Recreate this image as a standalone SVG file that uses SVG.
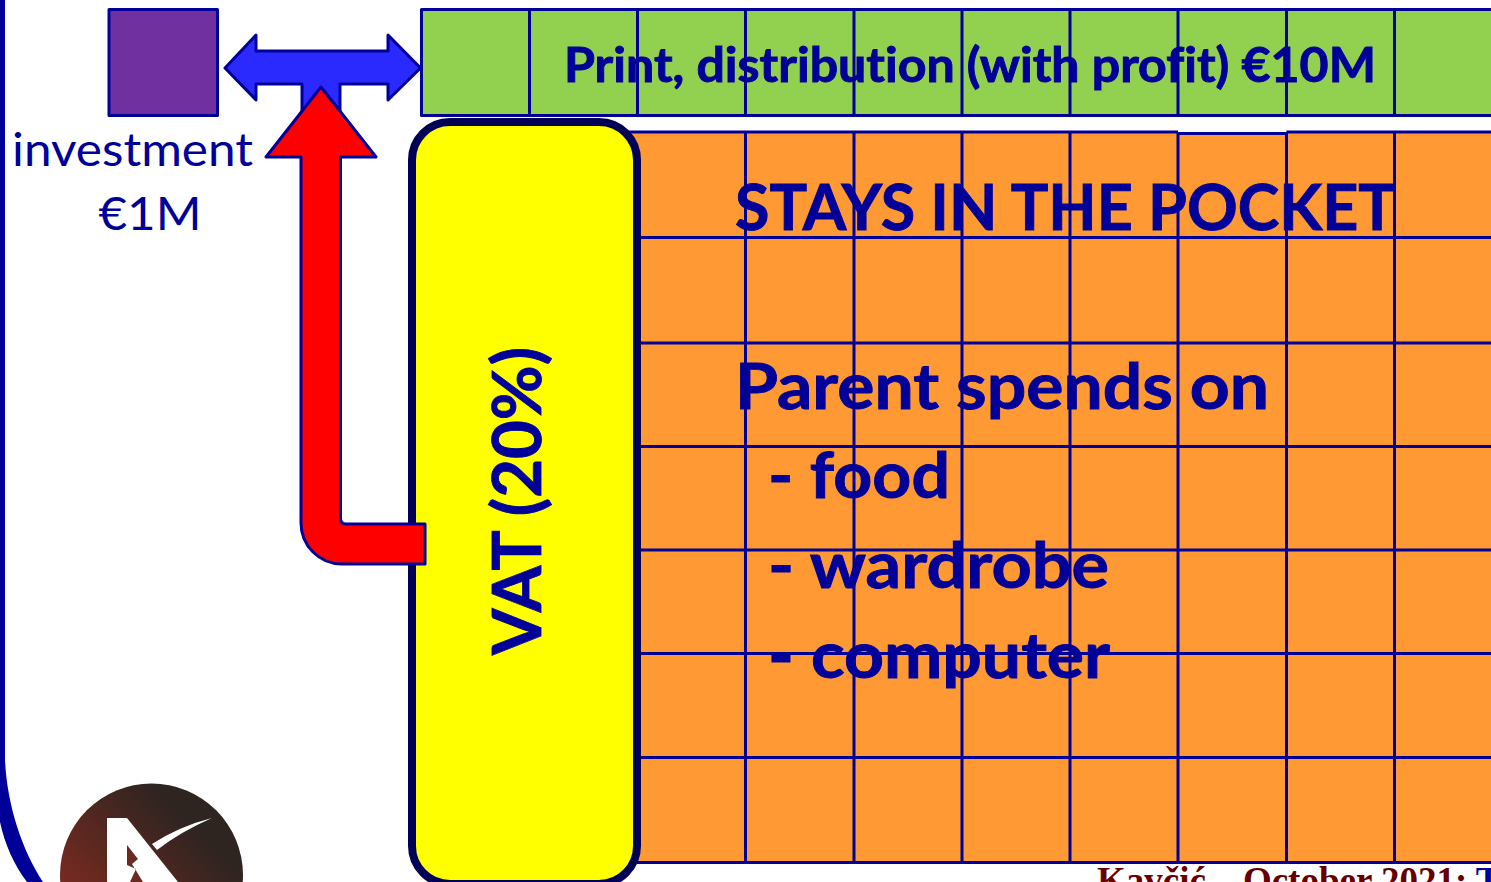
<svg xmlns="http://www.w3.org/2000/svg" width="1491" height="882" viewBox="0 0 1491 882">
<style>
.ln{stroke:#000099;stroke-width:3;fill:none}
.s{stroke:#000099;stroke-width:3;stroke-linejoin:round}
text{font-family:Lato,"Open Sans","Liberation Sans",sans-serif;fill:#000099;font-variant-ligatures:none}
.b{font-weight:700;stroke:#000099;stroke-width:0.9}
</style>
<defs>
<linearGradient id="lg" x1="0" y1="1" x2="1" y2="0"><stop offset="0.1" stop-color="#8a2c20"/><stop offset="0.75" stop-color="#2e2420"/></linearGradient>
</defs>
<rect width="1491" height="882" fill="#fff"/>
<path id="frame" d="M0 0H5V760C7 805 22 850 43 882H27C14 865 5 845 0 822Z" fill="#000099"/>
<g id="logo">
<circle cx="151.500" cy="875" r="91.500" fill="url(#lg)"/>
<path d="M107 818H127L178 882H107Z" fill="#fff"/>
<path d="M127 845L138 859L132 864L143 882H130L136 869L127 865Z" fill="#6a2a22"/>
<path d="M152 844Q180 826 212 818Q180 832 157 850Z" fill="#fff"/>
</g>
<g id="investment">
<rect x="109" y="9.500" width="108.500" height="106" fill="#7030a0" class="s"/>
<text x="132.500" y="166" font-size="46" text-anchor="middle" textLength="241" lengthAdjust="spacingAndGlyphs">investment</text>
<text x="150" y="230" font-size="46" text-anchor="middle" textLength="103" lengthAdjust="spacingAndGlyphs">€1M</text>
</g>
<g id="print">
<rect x="421.500" y="9.500" width="1080" height="106" fill="#92d050" class="s"/>
<path class="ln" d="M529.500 9.500V115.500M637.500 9.500V115.500M745.500 9.500V115.500M854 9.500V115.500M962 9.500V115.500M1070 9.500V115.500M1178 9.500V115.500M1286.500 9.500V115.500M1394.500 9.500V115.500"/>
<text class="b" x="564" y="82" font-size="47" textLength="812" lengthAdjust="spacingAndGlyphs">Print, distribution (with profit) €10M</text>
</g>
<g id="pocket">
<rect x="620" y="132" width="880" height="730" fill="#ff9933"/>
<path class="ln" d="M620 132H1178M1178 133.500H1286.500M1286.500 132H1491M620 237.500H1491M620 343H1491M620 446.500H1491M620 550H1491M620 653.500H1491M620 757.500H1491M620 862.500H1491"/>
<path class="ln" d="M745.500 132V863M854 132V863M962 132V863M1070 132V863M1178 132V863M1286.500 132V863M1394.500 132V863"/>
<text class="b" x="735" y="230" font-size="64" textLength="661" lengthAdjust="spacingAndGlyphs">STAYS IN THE POCKET</text>
<text class="b" x="735" y="409" font-size="64" textLength="534" lengthAdjust="spacingAndGlyphs">Parent spends on</text>
<text class="b" x="768" y="498" font-size="64" textLength="182" lengthAdjust="spacingAndGlyphs">- food</text>
<text class="b" x="768" y="588" font-size="64" textLength="341" lengthAdjust="spacingAndGlyphs">- wardrobe</text>
<text class="b" x="768" y="678" font-size="64" textLength="342" lengthAdjust="spacingAndGlyphs">- computer</text>
</g>
<g id="vat">
<rect x="412" y="122" width="225" height="762" rx="38" fill="#ffff00" stroke="#000055" stroke-width="8"/>
<text class="b" transform="translate(541 655) rotate(-90)" font-size="66" textLength="308" lengthAdjust="spacingAndGlyphs">VAT (20%)</text>
</g>
<g id="connectors">
<path class="s" fill="#2a2aff" d="M225 68L256 35V51H388V35L420.500 68L388 100V84H340V115H302V84H256V100Z"/>
<path class="s" fill="#ff0000" d="M321 87L376 157H340.500V518Q340.500 524 346 524H425V564H342A41 41 0 0 1 301 523V157H266Z"/>
</g>
<g id="footer">
<text x="1097" y="893" font-size="37" font-weight="700" style="font-family:'Liberation Serif',serif" fill="#660000"><tspan fill="#660000">Kavčić – October 2021: </tspan><tspan fill="#000099">T</tspan></text>
</g>
</svg>
